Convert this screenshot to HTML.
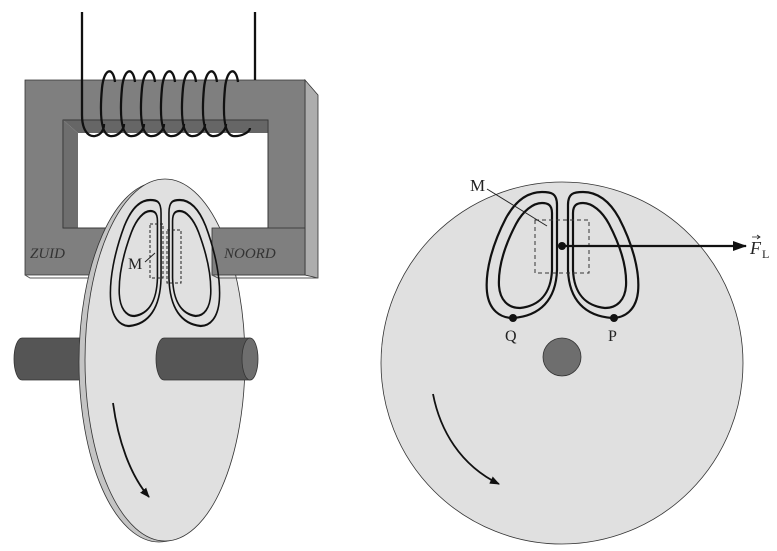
<!DOCTYPE html>
<html><head><meta charset="utf-8"><style>body{margin:0;background:#fff}svg{display:block}text{font-family:"Liberation Serif","DejaVu Serif",serif}</style></head><body>
<svg width="777" height="551" viewBox="0 0 777 551" xmlns="http://www.w3.org/2000/svg">
<defs>
<marker id="ah" markerWidth="10" markerHeight="8" refX="9" refY="4" orient="auto" markerUnits="userSpaceOnUse"><path d="M0,0 L10,4 L0,8 Z" fill="#111"/></marker>
<marker id="ah2" markerWidth="14" markerHeight="10" refX="13" refY="5" orient="auto" markerUnits="userSpaceOnUse"><path d="M0,0 L14,5 L0,10 Z" fill="#111"/></marker>
<g id="loopL">
<path d="M513,318 C540,316 556,300 557,270 L557,205 C557,193 551,192 542,192 C528,192 516,200 506,218 C492,245 485,272 487,292 C489,310 500,318 513,318 Z" fill="none" stroke="#111" stroke-width="2.2"/>
<path d="M520,308 C538,306 551,295 552,270 L552,213 C552,205 548,203 542,203 C533,203 523,211 516,224 C504,247 498,268 499,286 C500,300 508,308 520,308 Z" fill="none" stroke="#111" stroke-width="2.2"/>
</g>
</defs>
<path d="M305,80 L318,95 L318,278 L305,275 Z" fill="#adadad" stroke="#333" stroke-width="0.8"/>
<path d="M25,80 H305 V275 H25 Z M63,120 V228 H268 V120 Z" fill="#7f7f7f" fill-rule="evenodd" stroke="#333" stroke-width="0.8"/>
<path d="M63,120 H268 V133 H78 Z" fill="#666"/>
<path d="M63,120 L78,133 V228 H63 Z" fill="#6e6e6e"/>
<rect x="63" y="120" width="205" height="108" fill="none" stroke="#333" stroke-width="0.8"/>
<path d="M25,275 L30,278 H305" fill="none" stroke="#555" stroke-width="1"/>
<text x="30" y="258" font-size="15" font-style="italic" fill="#333">ZUID</text>
<g fill="none" stroke="#111" stroke-width="2.3">
<path d="M82,12 V115 C82,130 88,137 95,136 C101,135 104,130 104,124"/>
<path d="M255,12 V80"/>
<path d="M115,82 C113,66 104,68 102,88 C100,110 100,134 110,136 C118,137 124,130 124,124"/>
<path d="M135,82 C133,66 124,68 122,88 C120,110 120,134 130,136 C138,137 144,130 144,124"/>
<path d="M155,82 C153,66 144,68 142,88 C140,110 140,134 150,136 C158,137 164,130 164,124"/>
<path d="M175,82 C173,66 164,68 162,88 C160,110 160,134 170,136 C178,137 184,130 184,124"/>
<path d="M196,82 C194,66 185,68 183,88 C181,110 181,134 191,136 C199,137 205,130 205,124"/>
<path d="M217,82 C215,66 206,68 204,88 C202,110 202,134 212,136 C220,137 226,130 226,124"/>
<path d="M238,82 C236,66 227,68 225,88 C223,110 223,134 233,136 C241,137 250,132 250,128"/>
</g>
<path d="M22,338 H82 V380 H22 A8,21 0 0 1 22,338 Z" fill="#555" stroke="#333" stroke-width="0.8"/>
<ellipse cx="159" cy="362" rx="80" ry="180" fill="#c4c4c4" stroke="#333" stroke-width="0.8"/>
<ellipse cx="165" cy="360" rx="80" ry="181" fill="#e0e0e0" stroke="#333" stroke-width="0.8"/>
<path d="M164,338 H250 V380 H164 A8,21 0 0 1 164,338 Z" fill="#555" stroke="#333" stroke-width="0.8"/>
<ellipse cx="250" cy="359" rx="8" ry="21" fill="#6e6e6e" stroke="#333" stroke-width="0.8"/>
<rect x="212" y="228" width="93" height="47" fill="#7f7f7f" stroke="#333" stroke-width="0.8"/>
<path d="M212,275 L218,278 H318" fill="none" stroke="#555"/>
<text x="224" y="258" font-size="15" font-style="italic" fill="#333">NOORD</text>
<g transform="translate(165,8) scale(0.72,1) translate(-562.5,0)">
<use href="#loopL"/>
<use href="#loopL" transform="translate(1125,0) scale(-1,1)"/>
</g>
<rect x="150" y="224" width="13" height="54" fill="none" stroke="#222" stroke-dasharray="3,2"/>
<rect x="167" y="230" width="14" height="53" fill="none" stroke="#222" stroke-dasharray="3,2"/>
<text x="128" y="269" font-size="16" fill="#222">M</text>
<path d="M145,262 L155,253" stroke="#222" stroke-width="1"/>
<path d="M113,403 C118,440 130,475 149,497" fill="none" stroke="#111" stroke-width="1.8" marker-end="url(#ah)"/>
<circle cx="562" cy="363" r="181" fill="#e0e0e0" stroke="#333" stroke-width="0.8"/>
<circle cx="562" cy="357" r="19" fill="#6e6e6e" stroke="#333" stroke-width="0.8"/>
<use href="#loopL"/>
<use href="#loopL" transform="translate(1125,0) scale(-1,1)"/>
<rect x="535" y="220" width="54" height="53" fill="none" stroke="#333" stroke-dasharray="4,3"/>
<circle cx="562" cy="246" r="4" fill="#111"/>
<circle cx="513" cy="318" r="4" fill="#111"/>
<circle cx="614" cy="318" r="4" fill="#111"/>
<path d="M562,246 H746" stroke="#111" stroke-width="2.2" marker-end="url(#ah2)"/>
<text x="470" y="191" font-size="17" fill="#222">M</text>
<path d="M487,189 L547,226" stroke="#222" stroke-width="1"/>
<text x="505" y="341" font-size="16" fill="#222">Q</text>
<text x="608" y="341" font-size="16" fill="#222">P</text>
<text x="750" y="254" font-size="18" font-style="italic" fill="#222">F</text>
<text x="762" y="258" font-size="12" fill="#222">L</text>
<path d="M752,237 H760 M757,235 L760,237 L757,239" stroke="#222" stroke-width="0.8" fill="none"/>
<path d="M433,394 C440,430 460,465 499,484" fill="none" stroke="#111" stroke-width="1.8" marker-end="url(#ah)"/>
</svg>
</body></html>
